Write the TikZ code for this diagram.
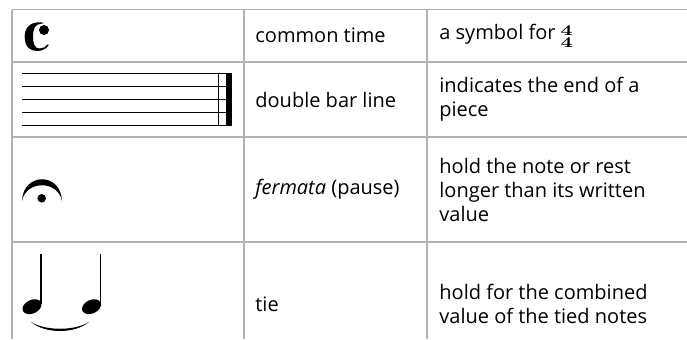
\documentclass[tikz,border=0pt]{standalone}
\usepackage{fontspec}
\usepackage{graphicx}
\newfontfamily\tabfont{Open Sans}
\newcommand{\sigfour}{\hbox{\scalebox{1.3}[1]{\rmfamily\bfseries\fontsize{7.5}{7.5}\selectfont 4}}}
\newcommand{\fourfour}{\raisebox{-4pt}{\vbox{\offinterlineskip\sigfour\kern1pt\sigfour}}}
\begin{document}
\begin{tikzpicture}[x=0.5pt, y=-0.5pt, line join=round, line cap=butt,
	rule/.style={draw=black!30, line width=0.7pt},
	cell/.style={anchor=west, inner sep=0pt, align=left, font=\tabfont\fontsize{10}{12}\selectfont},
	staffline/.style={line width=0.75pt}]
	\def\xa{12} \def\xb{244} \def\xc{427} \def\xmax{687}
	\def\tb{255} \def\tc{439}
	\useasboundingbox (0,0) rectangle (687,339);
	\foreach \y in {9.5,62,137,242} \draw[rule] (\xa,\y) -- (\xmax,\y);
	\foreach \x in {\xa,\xb,\xc} \draw[rule] (\x,9.5) -- (\x,339);
	% common time
	\fill (44,23) .. controls (40,21.5) and (24.7,21) .. (24.7,36.5)
		.. controls (24.7,48) and (31,51) .. (37.5,51)
		.. controls (43,51) and (47,48) .. (48.7,45)
		-- (47.8,44.3)
		.. controls (46,47) and (43,48.5) .. (39.5,48.5)
		.. controls (35,48.5) and (33,44) .. (33,36.5)
		.. controls (33,28) and (36,24) .. (40,24) -- cycle;
	\fill (44,30) circle[radius=2.5pt];
	\node[cell] (ctimename) at (\tb,35.75) {common time};
	\node[cell] (ctimetext) at (\tc,35.75) {a symbol for \fourfour};
	% double bar line
	\foreach \i in {0,...,4} \draw[staffline] (22,73.3+13.1*\i) -- (232,73.3+13.1*\i);
	\draw[staffline] (218.5,73.3) -- (218.5,125.7);
	\fill (226,73.3) rectangle (232,125.7);
	\node[cell] (barname) at (\tb,99.5) {double bar line};
	\node[cell] (bartext) at (\tc,99.5) {indicates the end of a\\piece};
	% fermata
	\fill (22,201) .. controls (23,172) and (61,172) .. (62,201)
		.. controls (58,180) and (26,180) .. cycle;
	\fill (41.7,198.3) circle[radius=2.15pt];
	\node[cell] (fermname) at (\tb,189.5) {\textit{fermata} (pause)};
	\node[cell] (fermtext) at (\tc,189.5) {hold the note or rest\\longer than its written\\value};
	% tie
	\foreach \hx in {32,91.5} {
		\fill[rotate around={25:(\hx,306.7)}] (\hx,306.7) ellipse[x radius=5pt, y radius=3.4pt];
		\draw[line width=0.65pt] (\hx+9,304) -- (\hx+9,254);
	}
	\fill (31,322) .. controls (45,334) and (75,334) .. (89,322)
		.. controls (75,331) and (45,331) .. cycle;
	\node[cell] (tiename) at (\tb,304) {tie};
	\node[cell] (tietext) at (\tc,304) {hold for the combined\\value of the tied notes};
\end{tikzpicture}
\end{document}
